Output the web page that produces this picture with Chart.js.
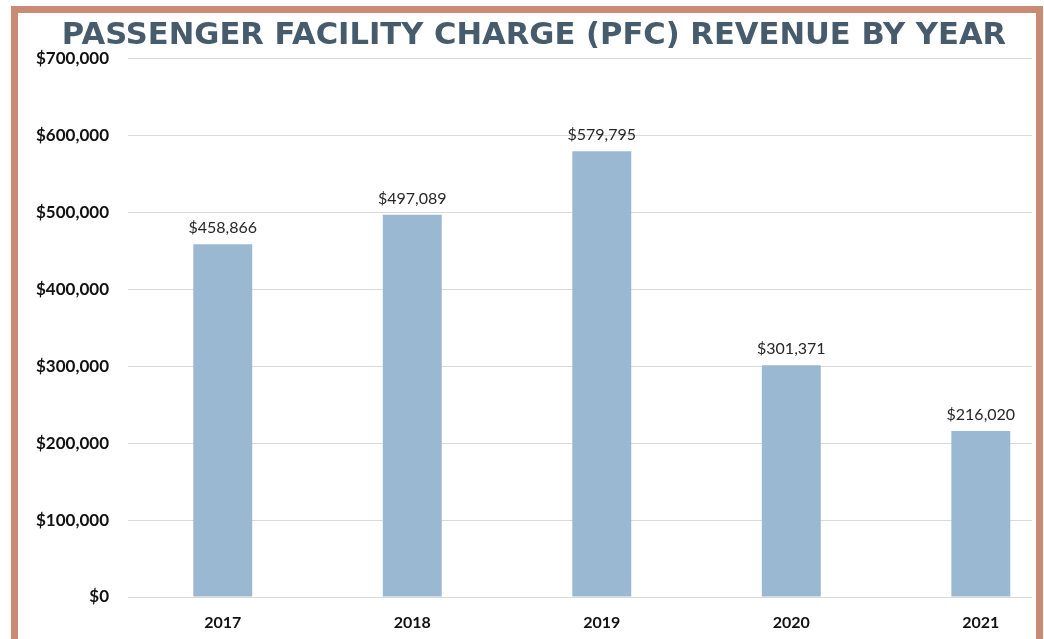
<!DOCTYPE html>
<html>
<head>
<meta charset="utf-8">
<script src="https://cdn.jsdelivr.net/npm/chart.js@4"></script>
<style>
  html, body { margin: 0; padding: 0; background: #fff; overflow: hidden; }
  #frame {
    position: absolute; left: 11px; top: 6px;
    width: 1032px; height: 700px; box-sizing: border-box;
    border: 7px solid #c98b73; border-bottom: none;
  }
  #revenueChart { position: absolute; left: 0; top: 0; }
</style>
</head>
<body>
<div id="frame"></div>
<canvas id="revenueChart" width="1044" height="639"></canvas>
<script>
const years = ['2017', '2018', '2019', '2020', '2021'];
const revenue = [458866, 497089, 579795, 301371, 216020];
const yTicks = [0, 100000, 200000, 300000, 400000, 500000, 600000, 700000];

function money(v) {
  return '$' + v.toLocaleString('en-US');
}

// etiquetas de valor encima de cada barra
const valueLabels = {
  id: 'valueLabels',
  afterDatasetsDraw(chart) {
    const ctx = chart.ctx;
    const meta = chart.getDatasetMeta(0);
    ctx.save();
    ctx.font = '16px Lato';
    ctx.fillStyle = '#262626';
    ctx.textAlign = 'center';
    ctx.textBaseline = 'alphabetic';
    meta.data.forEach(function(bar, i) {
      ctx.fillText(money(revenue[i]), bar.x, bar.y - 11);
    });
    ctx.restore();
  }
};

const config = {
  type: 'bar',
  data: {
    datasets: [{
      data: revenue.map((v, i) => ({x: i, y: v})),
      backgroundColor: '#9bb8d3',
      borderWidth: 0,
      categoryPercentage: 1,
      barPercentage: 0.311
    }]
  },
  options: {
    responsive: false,
    animation: false,
    layout: { padding: { left: 36, right: 12, top: 0, bottom: 9 } },
    plugins: {
      legend: { display: false },
      tooltip: { enabled: false },
      title: {
        display: true,
        text: 'PASSENGER FACILITY CHARGE (PFC) REVENUE BY YEAR',
        color: '#465b6b',
        font: { family: 'DejaVu Sans', size: 30.6, weight: 'bold' },
        padding: { top: 18, bottom: 4 }
      }
    },
    scales: {
      x: {
        type: 'linear',
        offset: false,
        bounds: 'data',
        min: -0.5,
        max: 4.27,
        afterBuildTicks: function(scale) {
          scale.ticks = years.map((_, i) => ({value: i}));
        },
        afterFit: function(scale) { scale.height = 33; },
        grid: { display: false, drawTicks: false },
        border: { display: false },
        ticks: {
          autoSkip: false,
          maxRotation: 0,
          padding: 16,
          color: '#111',
          font: { family: 'Lato', size: 16, weight: 'bold' },
          callback: function(value) { return years[value]; }
        }
      },
      y: {
        min: 0,
        max: 700000,
        afterBuildTicks: function(scale) {
          scale.ticks = yTicks.map(v => ({value: v}));
        },
        afterFit: function(scale) { scale.width = 92; },
        grid: { color: '#d9d9d9', drawTicks: false },
        border: { display: false },
        ticks: {
          padding: 19,
          color: '#111',
          font: { family: 'Lato', size: 17, weight: 'bold' },
          callback: function(value) { return money(value); }
        }
      }
    }
  },
  plugins: [valueLabels]
};

const revenueChart = new Chart(document.getElementById('revenueChart'), config);
</script>
</body>
</html>
